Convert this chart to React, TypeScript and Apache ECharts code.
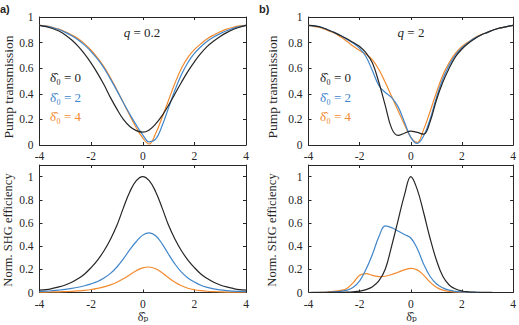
import React, { useEffect, useRef } from "react";
import * as echarts from "echarts";

const xs = [-4, -3.75, -3.5, -3.25, -3, -2.75, -2.5, -2.25, -2, -1.75, -1.5, -1.25, -1, -0.75, -0.5, -0.25, 0, 0.25, 0.5, 0.75, 1, 1.25, 1.5, 1.75, 2, 2.25, 2.5, 2.75, 3, 3.25, 3.5, 3.75, 4];

// Panel a (q = 0.2): pump transmission
const aT0 = [0.935, 0.925, 0.91, 0.89, 0.86, 0.82, 0.77, 0.71, 0.64, 0.56, 0.47, 0.37, 0.28, 0.2, 0.145, 0.112, 0.1, 0.118, 0.165, 0.23, 0.31, 0.4, 0.49, 0.575, 0.65, 0.715, 0.77, 0.812, 0.848, 0.878, 0.902, 0.92, 0.935];
const aT2 = [0.935, 0.928, 0.918, 0.902, 0.88, 0.853, 0.82, 0.78, 0.73, 0.67, 0.6, 0.515, 0.425, 0.33, 0.24, 0.155, 0.08, 0.025, 0.045, 0.15, 0.29, 0.43, 0.55, 0.645, 0.715, 0.768, 0.81, 0.843, 0.87, 0.893, 0.911, 0.925, 0.935];
const aT4 = [0.935, 0.93, 0.92, 0.905, 0.885, 0.86, 0.83, 0.79, 0.74, 0.68, 0.61, 0.525, 0.43, 0.33, 0.23, 0.135, 0.055, 0.008, 0.09, 0.215, 0.35, 0.485, 0.6, 0.685, 0.745, 0.79, 0.83, 0.86, 0.885, 0.905, 0.92, 0.93, 0.935];
// Panel a: SHG efficiency
const aS0 = [0.02, 0.025, 0.035, 0.048, 0.065, 0.088, 0.12, 0.16, 0.215, 0.28, 0.36, 0.46, 0.58, 0.73, 0.87, 0.965, 1, 0.965, 0.87, 0.73, 0.58, 0.46, 0.36, 0.28, 0.215, 0.16, 0.12, 0.088, 0.065, 0.048, 0.035, 0.025, 0.02];
const aS2 = [0.01, 0.012, 0.016, 0.021, 0.027, 0.035, 0.045, 0.058, 0.075, 0.095, 0.125, 0.165, 0.22, 0.29, 0.37, 0.44, 0.495, 0.515, 0.49, 0.42, 0.33, 0.245, 0.175, 0.125, 0.09, 0.062, 0.044, 0.031, 0.022, 0.016, 0.012, 0.009, 0.007];
const aS4 = [0.003, 0.004, 0.005, 0.006, 0.008, 0.01, 0.014, 0.019, 0.026, 0.036, 0.049, 0.066, 0.089, 0.118, 0.153, 0.188, 0.212, 0.22, 0.205, 0.17, 0.127, 0.088, 0.058, 0.037, 0.024, 0.016, 0.011, 0.008, 0.006, 0.004, 0.003, 0.002, 0.002];

// Panel b (q = 2): pump transmission
const bT0 = [0.935, 0.93, 0.92, 0.9, 0.88, 0.855, 0.83, 0.8, 0.77, 0.72, 0.64, 0.49, 0.31, 0.13, 0.075, 0.092, 0.108, 0.098, 0.085, 0.18, 0.35, 0.49, 0.6, 0.69, 0.75, 0.795, 0.83, 0.86, 0.88, 0.9, 0.915, 0.925, 0.935];
const bT2 = [0.935, 0.93, 0.92, 0.9, 0.88, 0.855, 0.825, 0.795, 0.755, 0.69, 0.58, 0.465, 0.41, 0.37, 0.3, 0.18, 0.06, 0.012, 0.07, 0.2, 0.37, 0.515, 0.625, 0.705, 0.76, 0.8, 0.835, 0.86, 0.88, 0.9, 0.915, 0.925, 0.935];
const bT4 = [0.935, 0.925, 0.915, 0.895, 0.875, 0.845, 0.81, 0.772, 0.738, 0.708, 0.665, 0.59, 0.49, 0.38, 0.27, 0.16, 0.06, 0.02, 0.12, 0.26, 0.41, 0.545, 0.645, 0.718, 0.77, 0.805, 0.838, 0.862, 0.882, 0.9, 0.915, 0.925, 0.935];
// Panel b: SHG efficiency
const bS0 = [0, 0, 0, 0, 0.001, 0.002, 0.003, 0.006, 0.012, 0.025, 0.05, 0.1, 0.2, 0.4, 0.62, 0.84, 1, 0.89, 0.69, 0.47, 0.28, 0.14, 0.065, 0.03, 0.013, 0.006, 0.003, 0.001, 0.001, 0, 0, 0, 0];
const bS2 = [0, 0.001, 0.002, 0.003, 0.005, 0.01, 0.02, 0.045, 0.1, 0.2, 0.33, 0.48, 0.575, 0.56, 0.53, 0.5, 0.47, 0.38, 0.245, 0.14, 0.075, 0.04, 0.02, 0.01, 0.005, 0.002, 0.001, 0, 0, 0, 0, 0, 0];
const bS4 = [0, 0.001, 0.003, 0.006, 0.01, 0.018, 0.035, 0.085, 0.148, 0.162, 0.148, 0.137, 0.14, 0.155, 0.175, 0.195, 0.208, 0.195, 0.15, 0.09, 0.045, 0.02, 0.01, 0.005, 0.003, 0.001, 0, 0, 0, 0, 0, 0, 0];

const xName = "δ̂ₚ";
const legendLabels = ["δ̂₀ = 0", "δ̂₀ = 2", "δ̂₀ = 4"];

const C0 = "#262626";
const C2 = "#4186cb";
const C4 = "#f28a2e";
const AX = "#262626";
const SERIF = "'Liberation Serif', 'DejaVu Serif', serif";

const grids = [
  { left: 39.5, top: 17, width: 206.5, height: 128 },
  { left: 308.5, top: 17, width: 206, height: 128 },
  { left: 39.5, top: 165, width: 206.5, height: 127.5 },
  { left: 308.5, top: 165, width: 206, height: 127.5 },
];

export default function App() {
  const ref = useRef<HTMLDivElement>(null);
  useEffect(() => {
    if (!ref.current) return;
    const chart = echarts.init(ref.current, null, { renderer: "svg" });
    const xAxis: any[] = [];
    const yAxis: any[] = [];
    grids.forEach((g, i) => {
      const common = {
        gridIndex: i,
        axisLine: { show: true, onZero: false, lineStyle: { color: AX, width: 1 } },
        axisTick: { show: true, inside: true, length: 3, lineStyle: { color: AX } },
        splitLine: { show: false },
      };
      xAxis.push({
        ...common,
        type: "value",
        position: "bottom",
        min: -4,
        max: 4,
        interval: 2,
        axisLabel: { color: AX, fontFamily: SERIF, fontSize: 11.5, margin: 5 },
      });
      xAxis.push({
        ...common,
        type: "value",
        position: "top",
        min: -4,
        max: 4,
        interval: 2,
        axisLabel: { show: false },
      });
      const ymax = i < 2 ? 1 : 1.1;
      yAxis.push({
        ...common,
        type: "value",
        position: "left",
        min: 0,
        max: ymax,
        interval: 0.2,
        axisLabel: { color: AX, fontFamily: SERIF, fontSize: 11.5, margin: 6, showMaxLabel: i < 2 },
      });
      yAxis.push({
        ...common,
        type: "value",
        position: "right",
        min: 0,
        max: ymax,
        interval: 0.2,
        axisLabel: { show: false },
      });
    });

    const sets = [
      [aT0, aT2, aT4],
      [bT0, bT2, bT4],
      [aS0, aS2, aS4],
      [bS0, bS2, bS4],
    ];
    const colors = [C0, C2, C4];
    const series: any[] = [];
    sets.forEach((set, gi) => {
      set.forEach((arr, si) => {
        series.push({
          type: "line",
          xAxisIndex: gi * 2,
          yAxisIndex: gi * 2,
          data: xs.map((x, k) => [x, arr[k]]),
          showSymbol: false,
          smooth: 0.4,
          lineStyle: { color: colors[si], width: 1.2 },
          z: 3 - si,
        });
      });
    });

    const graphic: any[] = [];
    const txt = (x: number, y: number, text: string, opts: any = {}) =>
      graphic.push({
        type: "text",
        x,
        y,
        rotation: opts.rotation || 0,
        style: {
          text,
          fill: opts.fill || AX,
          fontFamily: opts.fontFamily || SERIF,
          fontSize: opts.fontSize || 12.5,
          fontWeight: opts.fontWeight || "normal",
          fontStyle: opts.fontStyle || "normal",
          align: opts.align || "center",
          verticalAlign: "middle",
        },
      });
    txt(0, 9, "a)", { fontFamily: "'Liberation Sans', Arial, sans-serif", fontWeight: "bold", fontSize: 11, align: "left" });
    txt(259, 9, "b)", { fontFamily: "'Liberation Sans', Arial, sans-serif", fontWeight: "bold", fontSize: 11, align: "left" });
    [8, 272].forEach((x) => {
      txt(x, 87, "Pump transmission", { rotation: Math.PI / 2, fontSize: 13.5 });
      txt(x, 230, "Norm. SHG efficiency", { rotation: Math.PI / 2, fontSize: 12.5 });
    });
    txt(143, 316.5, xName, { fontSize: 12 });
    txt(411.5, 316.5, xName, { fontSize: 12 });
    const qText = (x: number, v: string) =>
      graphic.push({
        type: "text",
        x,
        y: 32,
        style: {
          text: "{q|q} = " + v,
          fill: AX,
          fontFamily: SERIF,
          fontSize: 13,
          align: "center",
          verticalAlign: "middle",
          rich: { q: { fontStyle: "italic", fontFamily: SERIF, fontSize: 13, fill: AX } },
        },
      });
    qText(142, "0.2");
    qText(411, "2");
    [50, 320].forEach((x) => {
      legendLabels.forEach((l, i) => {
        txt(x, 77.5 + i * 19.5, l, { align: "left", fill: colors[i], fontSize: 13 });
      });
    });

    chart.setOption({
      animation: false,
      backgroundColor: "#ffffff",
      grid: grids.map((g) => ({ ...g, containLabel: false })),
      xAxis,
      yAxis,
      series,
      graphic,
    });
    return () => chart.dispose();
  }, []);
  return (
    <div
      ref={ref}
      style={{ position: "fixed", left: 0, top: 0, width: 519, height: 325 }}
    />
  );
}
